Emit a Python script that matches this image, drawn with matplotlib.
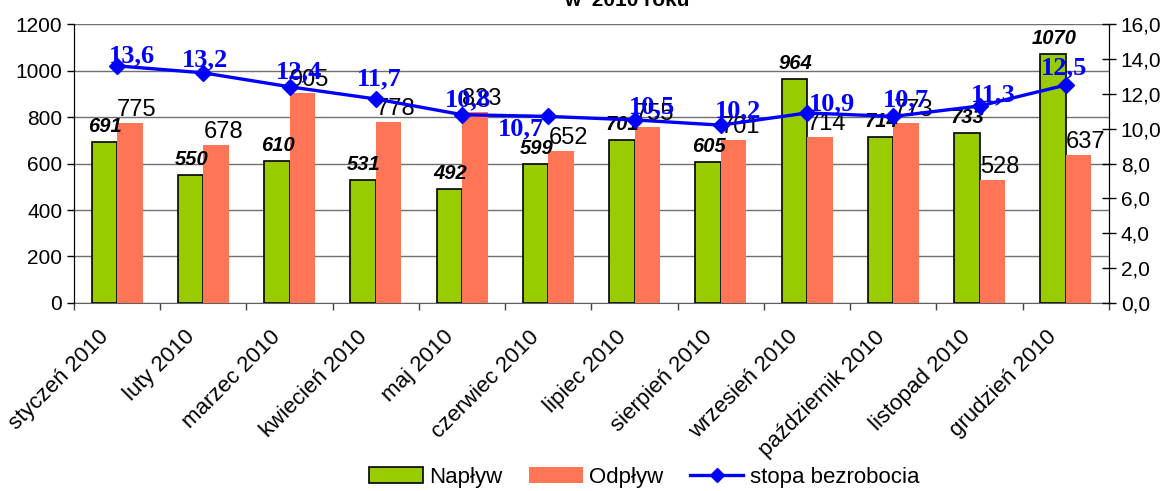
import matplotlib
matplotlib.use('Agg')
import matplotlib.pyplot as plt
import numpy as np
from matplotlib.patches import Patch
from matplotlib.lines import Line2D

months = ['styczeń 2010', 'luty 2010', 'marzec 2010', 'kwiecień 2010', 'maj 2010',
          'czerwiec 2010', 'lipiec 2010', 'sierpień 2010', 'wrzesień 2010',
          'październik 2010', 'listopad 2010', 'grudzień 2010']
naplyw = [691, 550, 610, 531, 492, 599, 701, 605, 964, 714, 733, 1070]
odplyw = [775, 678, 905, 778, 823, 652, 755, 701, 714, 773, 528, 637]
stopa = [13.6, 13.2, 12.4, 11.7, 10.8, 10.7, 10.5, 10.2, 10.9, 10.7, 11.3, 12.5]

# where Excel put each rate label, pixels from the point
rate_off = [(15, 10), (2, 13), (9, 15), (3, 20), (6, 15), (-27, -12),
            (17, 13), (17, 14), (25, 9), (13, 17), (14, 11), (-2, 17)]

plt.rcParams['font.family'] = ['Liberation Sans', 'DejaVu Sans']

green = '#99CC00'
salmon = '#FF7555'
blue = '#0000FF'

fig = plt.figure(figsize=(11.76, 4.91), dpi=100)
ax = fig.add_axes([0.0629, 0.3829, 0.8801, 0.5682])
x = np.arange(len(months))
w = 0.295

ax.bar(x - w/2, naplyw, w, color=green, edgecolor='black', linewidth=1.2, zorder=3)
ax.bar(x + w/2, odplyw, w, color=salmon, linewidth=0, zorder=3)
ax.set_ylim(0, 1200)
ax.set_xlim(-0.5, len(months) - 0.5)
ax.set_yticks(np.arange(0, 1201, 200))
ax.yaxis.grid(True, color='#707070', linewidth=1)
ax.set_axisbelow(True)
ax.tick_params(axis='y', labelsize=15, direction='out', length=5, width=1)
ax.set_xticks(x)
ax.set_xticklabels([])
ax.tick_params(axis='x', which='major', length=0)
ax.set_xticks(np.arange(-0.5, len(months)), minor=True)
ax.tick_params(axis='x', which='minor', direction='out', length=5, width=1, color='#404040')
ax.spines['top'].set_visible(False)
ax.spines['bottom'].set_color('#606060')

for i in range(len(months)):
    ax.annotate(str(naplyw[i]), (x[i] - w/2, naplyw[i]), xytext=(1, 10),
                textcoords='offset pixels', ha='center', va='baseline',
                fontsize=14.5, fontweight='bold', fontstyle='italic', zorder=5)
    ax.annotate(str(odplyw[i]), (x[i] + w/2, odplyw[i]), xytext=(7, 7),
                textcoords='offset pixels', ha='center', va='baseline',
                fontsize=17, zorder=5)
    ax.annotate(months[i], (x[i], 0), xycoords=('data', 'axes fraction'),
                xytext=(-12, -31), textcoords='offset pixels', rotation=45,
                ha='right', va='center', rotation_mode='anchor', fontsize=16)

ax2 = ax.twinx()
ax2.plot(x, stopa, color=blue, linewidth=2.4, marker='D', markersize=8, zorder=4)
ax2.set_ylim(0, 16)
ax2.set_yticks(np.arange(0, 16.1, 2))
ax2.set_yticklabels([f'{v:.1f}'.replace('.', ',') for v in np.arange(0, 16.1, 2)])
ax2.tick_params(axis='y', labelsize=15, direction='inout', length=10, width=1)
ax2.spines['top'].set_visible(False)
ax2.spines['bottom'].set_visible(False)

for i, v in enumerate(stopa):
    dx, dy = rate_off[i]
    ax2.annotate(f'{v:.1f}'.replace('.', ','), (x[i], v), xytext=(dx, dy),
                 textcoords='offset pixels', ha='center', va='center',
                 fontsize=19, fontweight='bold', color=blue,
                 family=['Liberation Serif', 'DejaVu Serif'])

fig.text(0.533, 1 - 6/491, 'w  2010 roku', ha='center', va='baseline',
         fontsize=15, fontweight='bold')

handles = [Patch(facecolor=green, edgecolor='black', linewidth=1.2),
           Patch(facecolor=salmon, edgecolor='none'),
           Line2D([0], [0], color=blue, linewidth=2.4, marker='D', markersize=7)]
fig.legend(handles, ['Napływ', 'Odpływ', 'stopa bezrobocia'], loc='center',
           bbox_to_anchor=(0.548, 0.028), ncol=3, frameon=False, fontsize=16,
           handlelength=2.4, handletextpad=0.3, columnspacing=1.2)

fig.savefig('out.png', dpi=100)
